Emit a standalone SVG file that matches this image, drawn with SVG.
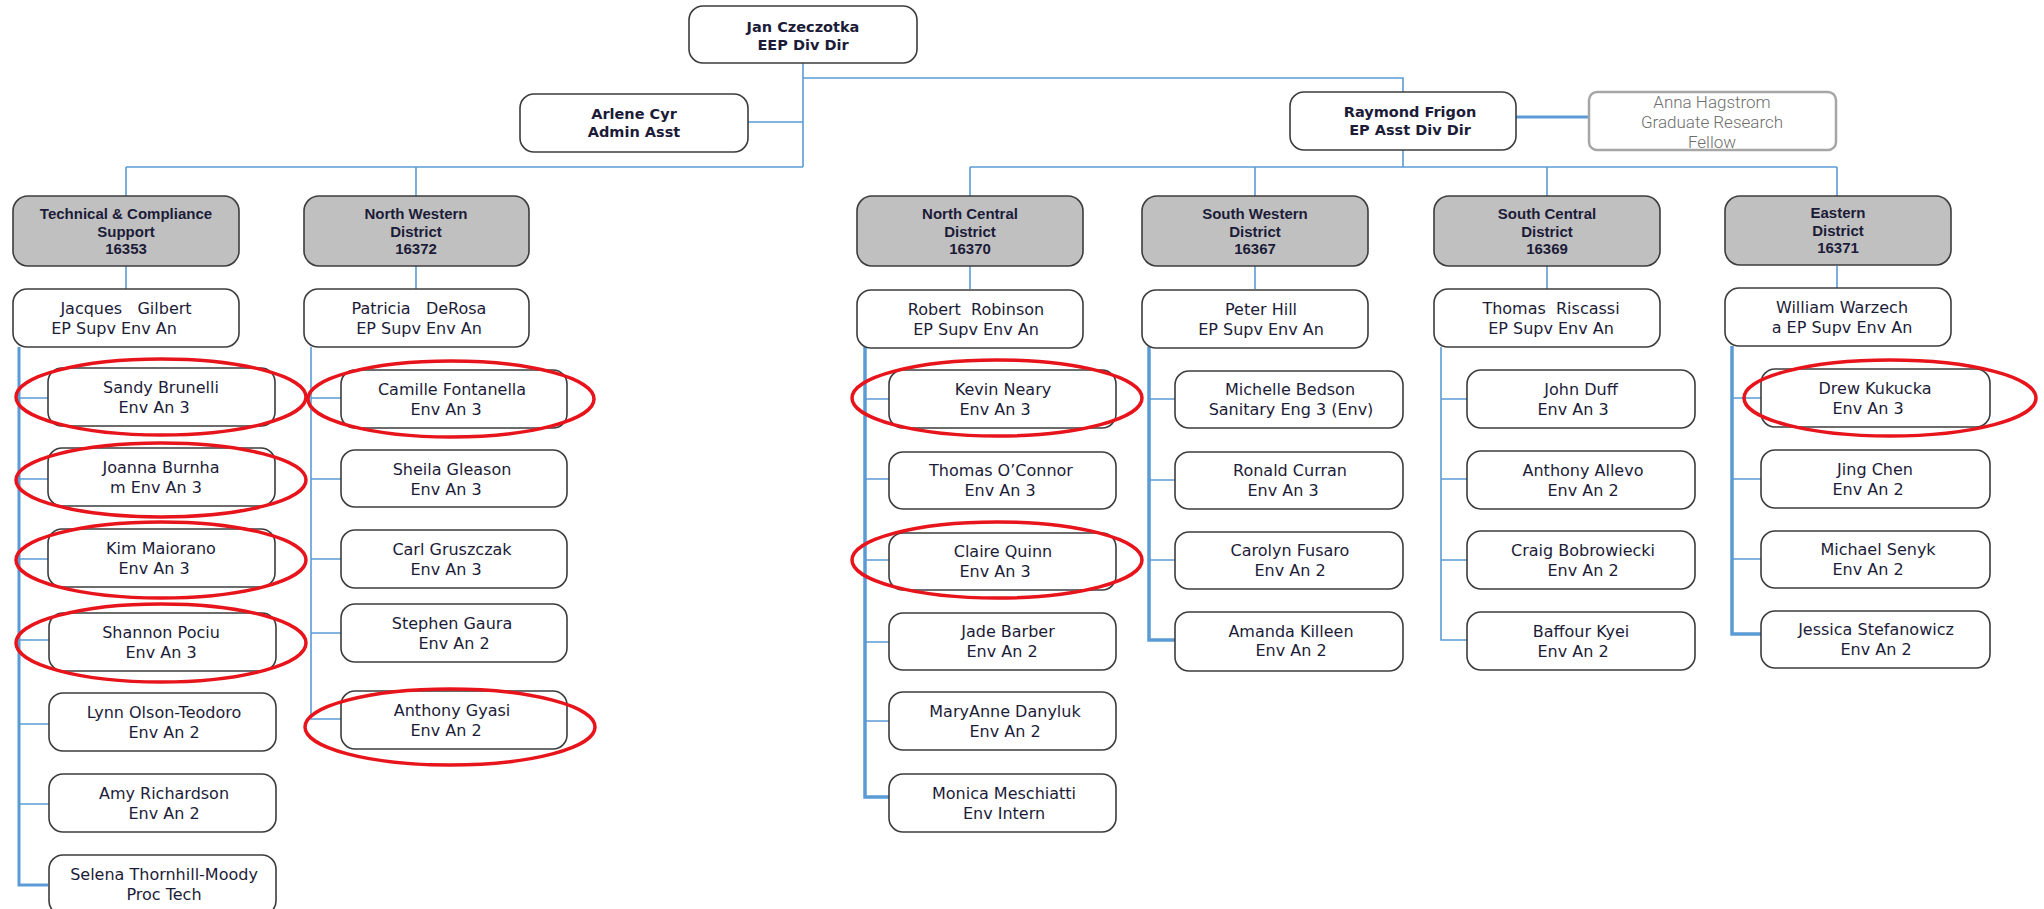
<svg xmlns="http://www.w3.org/2000/svg" width="2044" height="909" viewBox="0 0 2044 909">
<style>
.bx{fill:#fff;stroke:#3c3c3c;stroke-width:1.6}
.dx{fill:#c0c0c0;stroke:#3c3c3c;stroke-width:1.6}
.gx{fill:#fff;stroke:#a6a6a6;stroke-width:2.5}
.t{font-family:"DejaVu Sans","Open Sans",sans-serif;font-size:16px;fill:#1c1c38;text-anchor:middle}
.tp{font-family:"DejaVu Sans","Open Sans",sans-serif;font-size:14.5px;font-weight:700;fill:#1c1c38;text-anchor:middle}
.td{font-family:"Liberation Sans",Arial,sans-serif;font-size:15px;font-weight:700;fill:#1c1c38;text-anchor:middle}
.tg{font-family:Roboto,Lato,sans-serif;font-size:17px;font-weight:300;fill:#6e6e6e;text-anchor:middle}
.c{fill:none;stroke:#5b9bd5;stroke-width:1.6}
.ck{fill:none;stroke:#5b9bd5;stroke-width:3.5}
.r{fill:none;stroke:#e8141b;stroke-width:3.5}
</style>
<g id="connectors">
<path class="c" d="M803 63V167M803 78H1403V92M748 122H803M126 167H803M126 167V196M416 167V196"/>
<path class="c" d="M1403 150V167M970 167H1837M970 167V196M1255 167V196M1547 167V196M1837 167V196"/>
<path class="ck" d="M1516 117H1589" style="stroke-width:3"/>
<path class="c" d="M126 266V289M416 266V289M970 266V289M1255 266V289M1547 266V289M1837 266V289"/>
<path class="ck" d="M19 347V885H48" style="stroke-width:3"/>
<path class="c" d="M19 398H48M19 479H48M19 559H48M19 640H49M19 724H49M19 804H49"/>
<path class="c" d="M311 347V719H341M311 398H341M311 479H341M311 559H341M311 633H341"/>
<path class="ck" d="M865 347V797H889"/>
<path class="c" d="M865 399H889M865 479H889M865 560H889M865 642H889M865 721H889"/>
<path class="ck" d="M1149 347V640H1175"/>
<path class="c" d="M1149 399H1175M1149 480H1175M1149 560H1175"/>
<path class="c" d="M1441 347V640H1467M1441 399H1467M1441 479H1467M1441 560H1467"/>
<path class="ck" d="M1732 346V634H1761"/>
<path class="c" d="M1732 398H1761M1732 479H1761M1732 559H1761"/>
</g>
<g id="jan"><rect class="bx" x="689" y="6" width="228" height="57" rx="14"/><text class="tp" x="803" y="32">Jan Czeczotka</text><text class="tp" x="803" y="50">EEP Div Dir</text></g>
<g id="arlene"><rect class="bx" x="520" y="94" width="228" height="58" rx="14"/><text class="tp" x="634" y="119">Arlene Cyr</text><text class="tp" x="634" y="137">Admin Asst</text></g>
<g id="raymond"><rect class="bx" x="1290" y="92" width="226" height="58" rx="14"/><text class="tp" x="1410" y="117">Raymond Frigon</text><text class="tp" x="1410" y="135">EP Asst Div Dir</text></g>
<g id="anna"><rect class="gx" x="1589" y="92" width="247" height="58" rx="8"/><text class="tg" x="1712" y="108">Anna Hagstrom</text><text class="tg" x="1712" y="128">Graduate Research</text><text class="tg" x="1712" y="148">Fellow</text></g>

<g id="d-tech"><rect class="dx" x="13" y="196" width="226" height="70" rx="15"/><text class="td" x="126" y="219">Technical &amp; Compliance</text><text class="td" x="126" y="236.5">Support</text><text class="td" x="126" y="254">16353</text></g>
<g id="d-nw"><rect class="dx" x="304" y="196" width="225" height="70" rx="15"/><text class="td" x="416" y="219">North Western</text><text class="td" x="416" y="236.5">District</text><text class="td" x="416" y="254">16372</text></g>
<g id="d-nc"><rect class="dx" x="857" y="196" width="226" height="70" rx="15"/><text class="td" x="970" y="219">North Central</text><text class="td" x="970" y="236.5">District</text><text class="td" x="970" y="254">16370</text></g>
<g id="d-sw"><rect class="dx" x="1142" y="196" width="226" height="70" rx="15"/><text class="td" x="1255" y="219">South Western</text><text class="td" x="1255" y="236.5">District</text><text class="td" x="1255" y="254">16367</text></g>
<g id="d-sc"><rect class="dx" x="1434" y="196" width="226" height="70" rx="15"/><text class="td" x="1547" y="219">South Central</text><text class="td" x="1547" y="236.5">District</text><text class="td" x="1547" y="254">16369</text></g>
<g id="d-e"><rect class="dx" x="1725" y="196" width="226" height="69" rx="15"/><text class="td" x="1838" y="218">Eastern</text><text class="td" x="1838" y="235.5">District</text><text class="td" x="1838" y="253">16371</text></g>

<g id="s-gilbert"><rect class="bx" x="13" y="289" width="226" height="58" rx="14"/><text class="t" x="126" y="314" xml:space="preserve">Jacques   Gilbert</text><text class="t" x="114" y="333.5">EP Supv Env An</text></g>
<g id="s-derosa"><rect class="bx" x="304" y="289" width="225" height="58" rx="14"/><text class="t" x="419" y="314" xml:space="preserve">Patricia   DeRosa</text><text class="t" x="419" y="333.5">EP Supv Env An</text></g>
<g id="s-robinson"><rect class="bx" x="857" y="290" width="226" height="58" rx="14"/><text class="t" x="976" y="315" xml:space="preserve">Robert  Robinson</text><text class="t" x="976" y="334.5">EP Supv Env An</text></g>
<g id="s-hill"><rect class="bx" x="1142" y="290" width="226" height="58" rx="14"/><text class="t" x="1261" y="315">Peter Hill</text><text class="t" x="1261" y="334.5">EP Supv Env An</text></g>
<g id="s-riscassi"><rect class="bx" x="1434" y="289" width="226" height="58" rx="14"/><text class="t" x="1551" y="314" xml:space="preserve">Thomas  Riscassi</text><text class="t" x="1551" y="333.5">EP Supv Env An</text></g>
<g id="s-warzech"><rect class="bx" x="1725" y="288" width="226" height="58" rx="14"/><text class="t" x="1842" y="313">William Warzech</text><text class="t" x="1842" y="332.5">a EP Supv Env An</text></g>

<g id="e-brunelli"><rect class="bx" x="48" y="368" width="227" height="58" rx="14"/><text class="t" x="161" y="393">Sandy Brunelli</text><text class="t" x="154" y="412.5">Env An 3</text></g>
<g id="e-burnham"><rect class="bx" x="48" y="448" width="227" height="58" rx="14"/><text class="t" x="161" y="473">Joanna Burnha</text><text class="t" x="156" y="492.5">m Env An 3</text></g>
<g id="e-maiorano"><rect class="bx" x="48" y="529" width="227" height="58" rx="14"/><text class="t" x="161" y="554">Kim Maiorano</text><text class="t" x="154" y="573.5">Env An 3</text></g>
<g id="e-pociu"><rect class="bx" x="49" y="613" width="227" height="58" rx="14"/><text class="t" x="161" y="638">Shannon Pociu</text><text class="t" x="161" y="657.5">Env An 3</text></g>
<g id="e-olson"><rect class="bx" x="49" y="693" width="227" height="58" rx="14"/><text class="t" x="164" y="718">Lynn Olson-Teodoro</text><text class="t" x="164" y="737.5">Env An 2</text></g>
<g id="e-richardson"><rect class="bx" x="49" y="774" width="227" height="58" rx="14"/><text class="t" x="164" y="799">Amy Richardson</text><text class="t" x="164" y="818.5">Env An 2</text></g>
<g id="e-thornhill"><rect class="bx" x="49" y="855" width="227" height="60" rx="14"/><text class="t" x="164" y="880">Selena Thornhill-Moody</text><text class="t" x="164" y="899.5">Proc Tech</text></g>

<g id="e-fontanella"><rect class="bx" x="341" y="370" width="226" height="58" rx="14"/><text class="t" x="452" y="395">Camille Fontanella</text><text class="t" x="446" y="414.5">Env An 3</text></g>
<g id="e-gleason"><rect class="bx" x="341" y="450" width="226" height="57" rx="14"/><text class="t" x="452" y="475">Sheila Gleason</text><text class="t" x="446" y="494.5">Env An 3</text></g>
<g id="e-gruszczak"><rect class="bx" x="341" y="530" width="226" height="58" rx="14"/><text class="t" x="452" y="555">Carl Gruszczak</text><text class="t" x="446" y="574.5">Env An 3</text></g>
<g id="e-gaura"><rect class="bx" x="341" y="604" width="226" height="58" rx="14"/><text class="t" x="452" y="629">Stephen Gaura</text><text class="t" x="454" y="648.5">Env An 2</text></g>
<g id="e-gyasi"><rect class="bx" x="341" y="691" width="226" height="58" rx="14"/><text class="t" x="452" y="716">Anthony Gyasi</text><text class="t" x="446" y="735.5">Env An 2</text></g>

<g id="e-neary"><rect class="bx" x="889" y="370" width="227" height="58" rx="14"/><text class="t" x="1003" y="395">Kevin Neary</text><text class="t" x="995" y="414.5">Env An 3</text></g>
<g id="e-oconnor"><rect class="bx" x="889" y="452" width="227" height="57" rx="14"/><text class="t" x="1001" y="476">Thomas O’Connor</text><text class="t" x="1000" y="495.5">Env An 3</text></g>
<g id="e-quinn"><rect class="bx" x="889" y="533" width="227" height="57" rx="14"/><text class="t" x="1003" y="557">Claire Quinn</text><text class="t" x="995" y="576.5">Env An 3</text></g>
<g id="e-barber"><rect class="bx" x="889" y="613" width="227" height="57" rx="14"/><text class="t" x="1008" y="637">Jade Barber</text><text class="t" x="1002" y="656.5">Env An 2</text></g>
<g id="e-danyluk"><rect class="bx" x="889" y="692" width="227" height="58" rx="14"/><text class="t" x="1005" y="717">MaryAnne Danyluk</text><text class="t" x="1005" y="736.5">Env An 2</text></g>
<g id="e-meschiatti"><rect class="bx" x="889" y="774" width="227" height="58" rx="14"/><text class="t" x="1004" y="799">Monica Meschiatti</text><text class="t" x="1004" y="818.5">Env Intern</text></g>

<g id="e-bedson"><rect class="bx" x="1175" y="371" width="228" height="57" rx="14"/><text class="t" x="1290" y="395">Michelle Bedson</text><text class="t" x="1291" y="414.5">Sanitary Eng 3 (Env)</text></g>
<g id="e-curran"><rect class="bx" x="1175" y="452" width="228" height="57" rx="14"/><text class="t" x="1290" y="476">Ronald Curran</text><text class="t" x="1283" y="495.5">Env An 3</text></g>
<g id="e-fusaro"><rect class="bx" x="1175" y="532" width="228" height="57" rx="14"/><text class="t" x="1290" y="556">Carolyn Fusaro</text><text class="t" x="1290" y="575.5">Env An 2</text></g>
<g id="e-killeen"><rect class="bx" x="1175" y="612" width="228" height="59" rx="14"/><text class="t" x="1291" y="637">Amanda Killeen</text><text class="t" x="1291" y="656">Env An 2</text></g>

<g id="e-duff"><rect class="bx" x="1467" y="370" width="228" height="58" rx="14"/><text class="t" x="1581" y="395">John Duff</text><text class="t" x="1573" y="414.5">Env An 3</text></g>
<g id="e-allevo"><rect class="bx" x="1467" y="451" width="228" height="58" rx="14"/><text class="t" x="1583" y="476">Anthony Allevo</text><text class="t" x="1583" y="495.5">Env An 2</text></g>
<g id="e-bobrowiecki"><rect class="bx" x="1467" y="531" width="228" height="58" rx="14"/><text class="t" x="1583" y="556">Craig Bobrowiecki</text><text class="t" x="1583" y="575.5">Env An 2</text></g>
<g id="e-kyei"><rect class="bx" x="1467" y="612" width="228" height="58" rx="14"/><text class="t" x="1581" y="637">Baffour Kyei</text><text class="t" x="1573" y="656.5">Env An 2</text></g>

<g id="e-kukucka"><rect class="bx" x="1761" y="369" width="229" height="58" rx="14"/><text class="t" x="1875" y="394">Drew Kukucka</text><text class="t" x="1868" y="413.5">Env An 3</text></g>
<g id="e-chen"><rect class="bx" x="1761" y="450" width="229" height="58" rx="14"/><text class="t" x="1875" y="475">Jing Chen</text><text class="t" x="1868" y="494.5">Env An 2</text></g>
<g id="e-senyk"><rect class="bx" x="1761" y="531" width="229" height="57" rx="14"/><text class="t" x="1878" y="555">Michael Senyk</text><text class="t" x="1868" y="574.5">Env An 2</text></g>
<g id="e-stefanowicz"><rect class="bx" x="1761" y="611" width="229" height="57" rx="14"/><text class="t" x="1876" y="635">Jessica Stefanowicz</text><text class="t" x="1876" y="654.5">Env An 2</text></g>

<g id="highlights">
<ellipse class="r" cx="161" cy="397" rx="145" ry="38"/>
<ellipse class="r" cx="161" cy="480" rx="145" ry="37"/>
<ellipse class="r" cx="161" cy="560" rx="145" ry="38"/>
<ellipse class="r" cx="161" cy="643" rx="145" ry="39"/>
<ellipse class="r" cx="451" cy="399" rx="143" ry="38"/>
<ellipse class="r" cx="450" cy="727" rx="145" ry="38"/>
<ellipse class="r" cx="997" cy="398" rx="145" ry="38"/>
<ellipse class="r" cx="997" cy="560" rx="145" ry="38"/>
<ellipse class="r" cx="1890" cy="398" rx="146" ry="38"/>
</g>
</svg>
